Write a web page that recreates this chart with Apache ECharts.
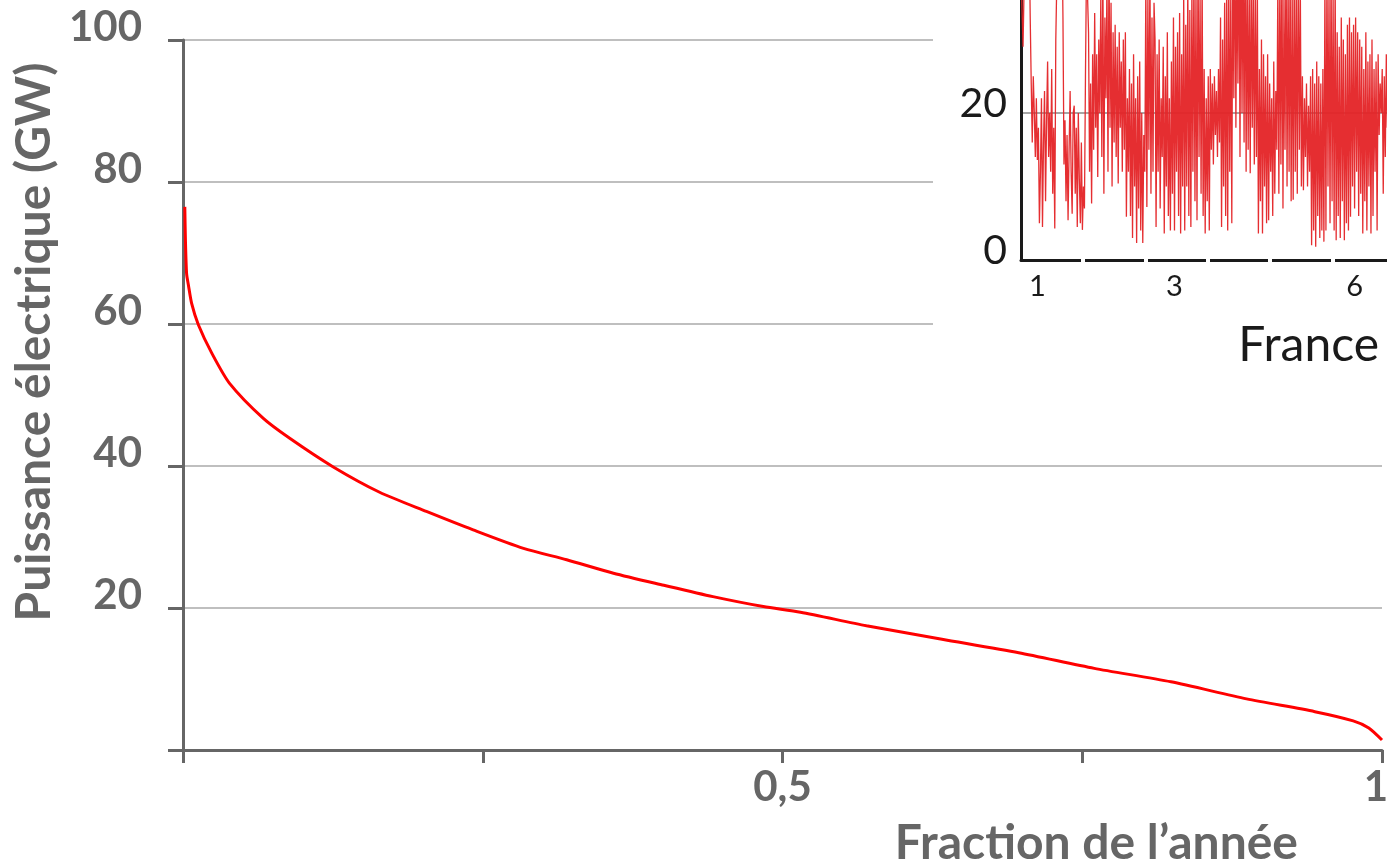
<!DOCTYPE html>
<html>
<head>
<meta charset="utf-8">
<title>Puissance électrique – France</title>
<script src="https://cdn.jsdelivr.net/npm/echarts@6/dist/echarts.min.js"></script>
<style>
  html, body { margin: 0; padding: 0; background: #fff; }
  #chart { width: 1387px; height: 867px; }
</style>
</head>
<body>
<div id="chart"></div>
<script>
// Duration curve: power (GW) exceeded during a given fraction of the year
const durationFraction = [0.0015, 0.002, 0.003, 0.0045, 0.0072, 0.0128, 0.024, 0.039, 0.067, 0.089,
  0.125, 0.164, 0.203, 0.242, 0.284, 0.32, 0.359, 0.401, 0.442, 0.484, 0.515, 0.57, 0.633,
  0.697, 0.76, 0.824, 0.887, 0.944, 0.976, 0.989, 1.0];
const durationPower = [76.5, 72, 67.1, 65.5, 62.9, 59.9, 55.9, 51.6, 46.7, 43.9,
  39.9, 36.3, 33.6, 31.0, 28.4, 26.8, 24.9, 23.2, 21.6, 20.2, 19.4, 17.5, 15.6,
  13.7, 11.5, 9.6, 7.2, 5.4, 4.1, 3.1, 1.4];

// Wind power (GW) every half day from the start of the year
const sampleStepDays = 0.5;
const windPowerHalfDaily = [
  40, 34, 29, 37, 42, 38, 45, 40, 44, 33,
  24, 16, 25, 20, 14, 22, 13.6, 18, 5, 12,
  22, 4.5, 16, 23, 8, 19, 27, 14, 20, 12,
  26, 9, 18, 4.3, 30, 38, 44, 36, 42, 40,
  45, 33, 13, 19, 8, 17, 5.4, 15, 23, 12,
  6.3, 20, 21, 9, 18, 4.5, 20, 11, 5, 16,
  4.1, 10, 7, 25, 40, 36, 31, 12, 24, 7.7,
  28, 15, 33.6, 18, 28, 11.3, 30, 20, 36, 14,
  40, 9, 33, 22, 38, 12, 42, 18, 35, 10,
  31, 16, 32, 14, 29, 10.4, 31, 18, 27, 12,
  30, 15, 31, 5.9, 22, 12, 26, 6, 24, 3,
  28, 10, 22, 2.3, 25, 7, 27, 4, 20, 2.3,
  17, 12, 38, 7.2, 36, 15, 40, 9, 33, 12,
  35, 30, 4.5, 28, 12, 30, 7, 22, 14, 29,
  3.6, 25, 10, 31, 6, 22, 4, 27, 9, 33,
  4, 29, 12, 31, 6, 33.6, 3.6, 28, 10, 36,
  4, 32, 10, 38, 6, 34, 4.5, 37, 12, 40,
  8, 37, 5.4, 42, 14, 36, 9, 39, 6, 26,
  3.6, 22, 8, 25, 4, 26, 15, 24, 13, 25,
  17, 23, 14, 26, 16, 33, 4.5, 30, 10, 35,
  6, 38, 4, 40, 12, 36, 5, 45, 22, 48,
  18, 42, 24, 50, 14, 46, 20, 44, 16, 47,
  12, 40, 15, 38, 11.8, 41, 18, 37, 13, 39,
  14, 36, 3.6, 26, 8, 30, 3.6, 28, 10, 25,
  5, 28, 5.4, 24, 12, 22, 6, 27, 9, 23,
  15, 38, 9, 40, 13, 42, 7, 36, 15, 44,
  10, 39, 12, 41, 8, 37, 8.2, 40, 12, 38,
  9, 42, 15, 36, 10, 25, 9.5, 22, 14, 24,
  10, 21, 12, 25, 2, 26, 4, 24, 1.8, 27,
  6, 25, 3, 24, 4, 26, 2.5, 38, 4, 40,
  10, 37, 5, 41, 8, 36, 4, 39, 2.7, 31,
  6, 29, 3, 33, 8, 30, 2.7, 28, 5, 32,
  4, 33, 5.9, 31, 10, 32, 7, 33, 12, 31,
  6, 30, 9, 29, 3.6, 26, 8, 31, 4, 27,
  10, 28, 3.6, 30, 6, 26, 12, 27, 4, 28,
  17, 24, 20, 26, 9, 25, 14, 28, 18, 23,
  10, 26
];

// Tick labels
const fractionTicks = [0.5, 1];
const fractionTickLabels = ['0,5', '1'];
const monthLabels = ['1', '3', '6'];
const monthLabelDays = [8, 75, 163];
const monthStartDays = [30.4, 60.8, 91.3, 121.7, 152.1, 182.5, 212.9, 243.3, 273.8, 304.2, 334.6];

const FONT = 'Lato, "Open Sans", sans-serif';
const GREY = '#666666';
const INK = '#1a1a1a';

const chart = echarts.init(document.getElementById('chart'), null, { renderer: 'canvas' });

const option = {
  animation: false,
  backgroundColor: '#ffffff',
  title: {
    text: 'France',
    right: 3,
    top: 317,
    z: 8,
    textStyle: { fontFamily: FONT, fontSize: 48, fontWeight: 'normal', color: INK }
  },
  graphic: [
    { type: 'rect', z: 1, shape: { x: 933, y: 0, width: 454, height: 380 }, style: { fill: '#ffffff' } }
  ],
  grid: [
    { left: 183, right: 5, top: 40, bottom: 117, outerBoundsMode: 'none' },
    { left: 1021, width: 747, top: -34, height: 294, outerBoundsMode: 'none' }
  ],
  xAxis: [
    {
      gridIndex: 0,
      type: 'value',
      position: 'bottom',
      min: 0,
      max: 1,
      interval: 0.25,
      name: 'Fraction de l\u2019année',
      nameLocation: 'end',
      nameGap: -84,
      nameTextStyle: {
        fontFamily: FONT, fontSize: 48, fontWeight: 'bold', color: GREY,
        align: 'right', verticalAlign: 'top', padding: [70, 0, 0, 0]
      },
      axisLine: { lineStyle: { color: GREY, width: 3 } },
      axisTick: { length: 13, lineStyle: { color: GREY, width: 3 } },
      splitLine: { show: false },
      axisLabel: {
        margin: 16,
        fontFamily: FONT, fontSize: 42, fontWeight: 'bold', color: GREY,
        formatter: function (v) {
          const i = fractionTicks.indexOf(v);
          if (i < 0) return '';
          return i === fractionTicks.length - 1 ? '{end|' + fractionTickLabels[i] + '}' : fractionTickLabels[i];
        },
        rich: {
          end: { fontFamily: FONT, fontSize: 42, fontWeight: 'bold', color: GREY, padding: [0, 12, 0, 0] }
        }
      }
    },
    {
      gridIndex: 1,
      type: 'value',
      position: 'bottom',
      min: 0,
      max: 365,
      z: 5,
      axisLine: { onZero: false, lineStyle: { color: INK, width: 3 } },
      axisTick: { show: true, customValues: monthStartDays, inside: false, length: 2, lineStyle: { color: '#ffffff', width: 4 } },
      axisLabel: { show: false },
      splitLine: { show: false }
    },
    {
      gridIndex: 1,
      type: 'value',
      position: 'bottom',
      min: 0,
      max: 365,
      z: 5,
      axisLine: { show: false, onZero: false },
      axisTick: { show: true, customValues: monthStartDays, inside: true, length: 2, lineStyle: { color: '#ffffff', width: 4 } },
      axisLabel: {
        show: true,
        customValues: monthLabelDays,
        margin: 12,
        fontFamily: FONT, fontSize: 29, color: INK,
        formatter: function (v) {
          const i = monthLabelDays.indexOf(v);
          return i < 0 ? '' : monthLabels[i];
        }
      },
      splitLine: { show: false }
    }
  ],
  yAxis: [
    {
      gridIndex: 0,
      type: 'value',
      min: 0,
      max: 100,
      interval: 20,
      name: 'Puissance électrique (GW)',
      nameLocation: 'middle',
      nameGap: 122,
      nameTextStyle: {
        fontFamily: FONT, fontSize: 48, fontWeight: 'bold', color: GREY,
        padding: [0, 0, 0, 106]
      },
      axisLine: { show: true, lineStyle: { color: GREY, width: 3 } },
      axisTick: { show: true, length: 15, lineStyle: { color: GREY, width: 3 } },
      axisLabel: {
        margin: 41,
        verticalAlign: 'bottom',
        lineHeight: 26,
        fontFamily: FONT, fontSize: 42, fontWeight: 'bold', color: GREY,
        formatter: function (v) { return v === 0 ? '' : String(v); }
      },
      splitLine: { show: true, lineStyle: { color: '#aaaaaa', width: 1.5 } }
    },
    {
      gridIndex: 1,
      type: 'value',
      min: 0,
      max: 40,
      interval: 20,
      z: 5,
      axisLine: { show: true, lineStyle: { color: INK, width: 3 } },
      axisTick: { show: false },
      axisLabel: {
        margin: 14,
        verticalAlign: 'bottom',
        lineHeight: 18,
        fontFamily: FONT, fontSize: 41, color: INK
      },
      splitLine: { show: true, lineStyle: { color: '#888888', width: 1.5 } }
    }
  ],
  series: [
    {
      name: 'Courbe de durée',
      type: 'line',
      xAxisIndex: 0,
      yAxisIndex: 0,
      data: durationFraction.map(function (f, i) { return [f, durationPower[i]]; }),
      showSymbol: false,
      smooth: 0.25,
      lineStyle: { color: '#ff0000', width: 3 },
      z: 2
    },
    {
      name: 'Production éolienne',
      type: 'line',
      xAxisIndex: 1,
      yAxisIndex: 1,
      data: windPowerHalfDaily.map(function (v, i) { return [i * sampleStepDays, v]; }),
      showSymbol: false,
      lineStyle: { color: '#e42326', width: 1.3, opacity: 0.95 },
      z: 6
    }
  ]
};

chart.setOption(option);
</script>
</body>
</html>
